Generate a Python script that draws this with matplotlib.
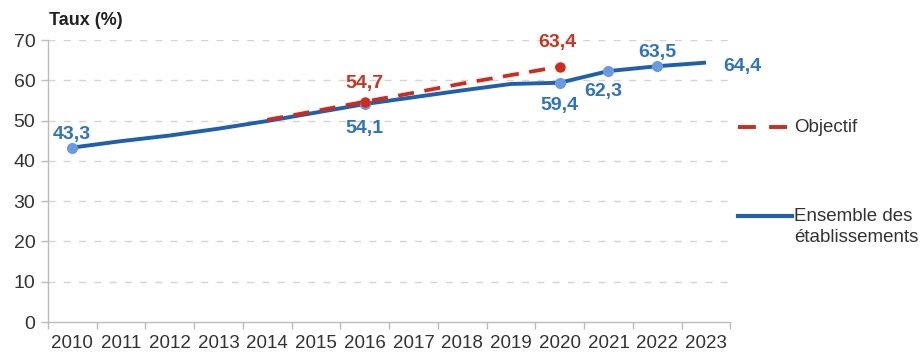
import matplotlib
matplotlib.use("Agg")
import matplotlib.pyplot as plt
import numpy as np
from matplotlib.lines import Line2D

plt.rcParams['font.family'] = ['Liberation Sans', 'DejaVu Sans']

years = [str(y) for y in range(2010, 2024)]
ensemble = [43.3, 44.9, 46.3, 48.0, 49.9, 52.0, 54.1, 55.8, 57.5, 59.1, 59.4, 62.3, 63.5, 64.4]
objectif_years = ["2014", "2015", "2016", "2017", "2018", "2019", "2020"]
objectif = [50.2, 52.4, 54.7, 56.9, 59.2, 61.3, 63.4]
yticks = [0, 10, 20, 30, 40, 50, 60, 70]

blue = "#1f5fae"
blue_marker = "#6a9ae0"
blue_text = "#2e72c2"
red = "#d12a1a"
red_text = "#cc3320"

fig = plt.figure(figsize=(9.21, 3.56), dpi=100)
ax = fig.add_axes([0.052, 0.0955, 0.741, 0.792])

x = np.arange(len(years))
xo = np.array([years.index(y) for y in objectif_years])

ax.plot(x, ensemble, color=blue, lw=2.8, solid_capstyle='butt', zorder=3)
ax.plot(xo, objectif, color=red, lw=2.7, dashes=(4.3, 2.8), zorder=4)

for yr in ["2010", "2016", "2020", "2021", "2022"]:
    i = years.index(yr)
    ax.plot(i, ensemble[i], 'o', color=blue_marker, ms=7, mec=blue_marker, zorder=5)
for yr in ["2016", "2020"]:
    i = objectif_years.index(yr)
    ax.plot(xo[i], objectif[i], 'o', color=red, ms=6.5, zorder=6)

def fmt(v):
    return f"{v:.1f}".replace(".", ",")

lab_kw = dict(fontsize=14, fontweight='bold', ha='center')
# ensemble labels
i = years.index("2010"); ax.text(i, ensemble[i] + 1.2, fmt(ensemble[i]), color=blue_text, va='bottom', **lab_kw)
i = years.index("2016"); ax.text(i, ensemble[i] - 4.0, fmt(ensemble[i]), color=blue_text, va='top', **lab_kw)
i = years.index("2020"); ax.text(i, ensemble[i] - 3.5, fmt(ensemble[i]), color=blue_text, va='top', **lab_kw)
i = years.index("2021"); ax.text(i - 0.1, ensemble[i] - 3.0, fmt(ensemble[i]), color=blue_text, va='top', **lab_kw)
i = years.index("2022"); ax.text(i, ensemble[i] + 1.2, fmt(ensemble[i]), color=blue_text, va='bottom', **lab_kw)
i = years.index("2023"); ax.text(i + 0.35, ensemble[i] - 0.9, fmt(ensemble[i]), color=blue_text, va='center',
                                fontsize=14, fontweight='bold', ha='left')
# objectif labels
i = objectif_years.index("2016"); ax.text(xo[i], objectif[i] + 2.3, fmt(objectif[i]), color=red_text, va='bottom', **lab_kw)
i = objectif_years.index("2020"); ax.text(xo[i] - 0.05, objectif[i] + 4.0, fmt(objectif[i]), color=red_text, va='bottom', **lab_kw)

ax.set_xlim(-0.5, len(years) - 0.5)
ax.set_ylim(0, 70)
ax.set_yticks(yticks)
ax.set_yticklabels([str(t) for t in yticks], fontsize=14, color="#333333")
ax.set_xticks(x)
ax.set_xticklabels(years, fontsize=13.5, color="#333333")
ax.set_xticks(np.arange(-0.5, len(years), 1), minor=True)
ax.tick_params(axis='x', which='major', length=0, pad=9)
ax.tick_params(axis='x', which='minor', length=5, color="#bbbbbb", width=1)
ax.tick_params(axis='y', length=5, color="#bbbbbb", width=1, pad=4)

for t in yticks[1:]:
    ax.axhline(t, color="#d4d4d4", lw=1.0, dashes=(5, 6), zorder=1)

for s in ['top', 'right']:
    ax.spines[s].set_visible(False)
ax.spines['left'].set_color("#bbbbbb")
ax.spines['bottom'].set_color("#bbbbbb")
ax.spines['left'].set_linewidth(1)
ax.spines['bottom'].set_linewidth(1)

fig.text(0.053, 0.942, "Taux (%)", fontsize=13, fontweight='bold', color="#222222", ha='left', va='center')

# legend (manual)
fig.add_artist(Line2D([0.801, 0.856], [0.643, 0.643], color=red, lw=2.8, dashes=(4.6, 3.4)))
fig.text(0.862, 0.643, "Objectif", fontsize=13.5, color="#333333", va='center', ha='left')
fig.add_artist(Line2D([0.801, 0.860], [0.393, 0.393], color=blue, lw=3))
fig.text(0.862, 0.393, "Ensemble des", fontsize=13.5, color="#333333", va='center', ha='left')
fig.text(0.862, 0.333, "établissements", fontsize=13.5, color="#333333", va='center', ha='left')

fig.savefig("out.png", dpi=100)
